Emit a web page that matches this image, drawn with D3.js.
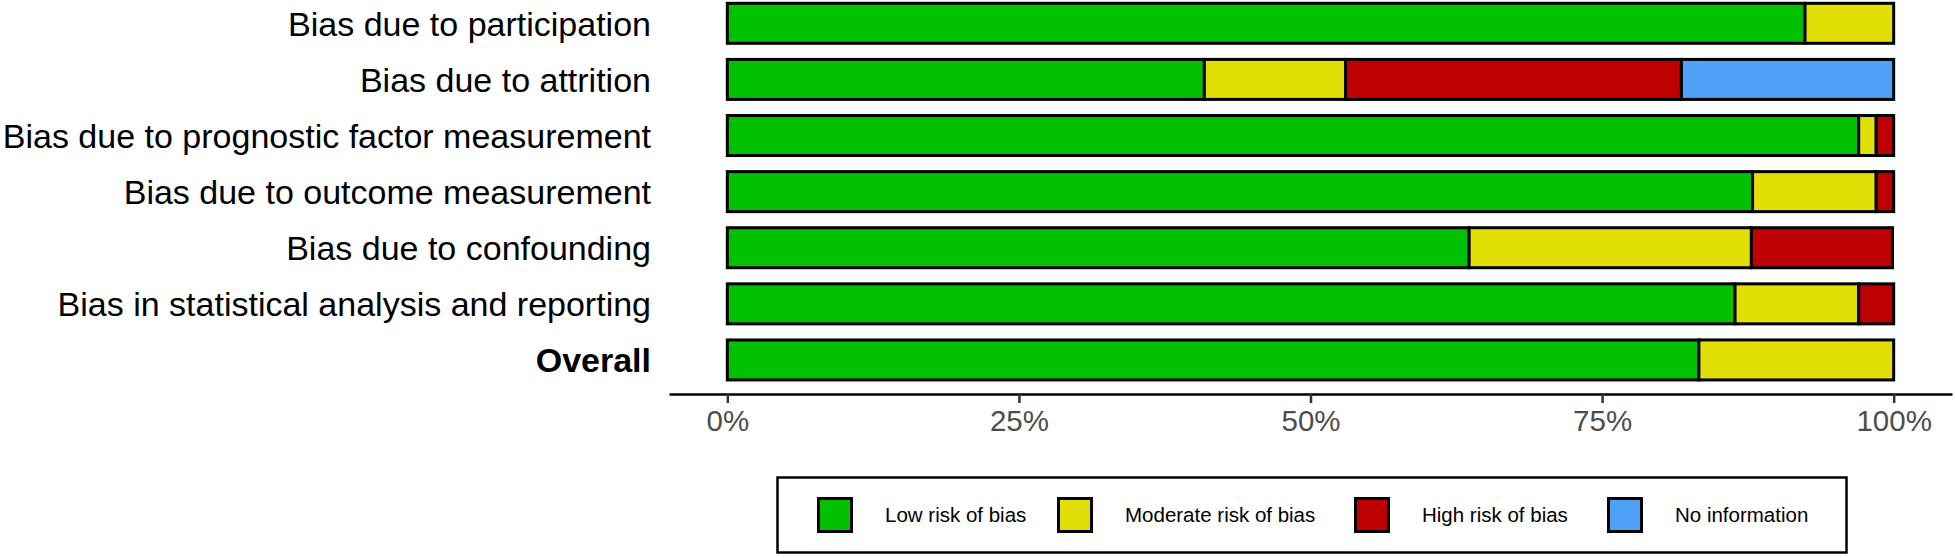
<!DOCTYPE html>
<html>
<head>
<meta charset="utf-8">
<script src="https://cdn.jsdelivr.net/npm/d3@7"></script>
<style>
  html, body { margin: 0; padding: 0; background: #ffffff; }
  svg { display: block; }
  text { font-family: "Liberation Sans", Arial, Helvetica, sans-serif; }
</style>
</head>
<body>
<svg id="chart" width="1955" height="558"></svg>
<script>
// ---- data ----
const domains = [
  "Bias due to participation",
  "Bias due to attrition",
  "Bias due to prognostic factor measurement",
  "Bias due to outcome measurement",
  "Bias due to confounding",
  "Bias in statistical analysis and reporting",
  "Overall"
];
const judgements = ["Low risk of bias", "Moderate risk of bias", "High risk of bias", "No information"];
const lowRisk      = [92.4, 40.9, 97.0, 87.9, 63.6, 86.4, 83.3];
const moderateRisk = [7.6, 12.1, 1.5, 10.6, 24.2, 10.6, 16.7];
const highRisk     = [0.0, 28.8, 1.5, 1.5, 12.1, 3.0, 0.0];
const noInfo       = [0.0, 18.2, 0.0, 0.0, 0.0, 0.0, 0.0];
const tickValues   = [0, 25, 50, 75, 100];
const tickLabels   = ["0%", "25%", "50%", "75%", "100%"];
const colours      = ["#02C100", "#E2DF07", "#BF0000", "#4EA1F7"];

// ---- build table ----
const seriesValues = [lowRisk, moderateRisk, highRisk, noInfo];
const table = domains.map((d, i) => {
  const row = { domain: d };
  judgements.forEach((j, k) => { row[j] = seriesValues[k][i]; });
  return row;
});
const stacked = d3.stack().keys(judgements)(table);

const svg = d3.select("#chart");

const x = d3.scaleLinear().domain([-5, 105]).range([669, 1952]);
const y = d3.scaleBand().domain(domains).range([-4.75, 388]).paddingInner(0.287).paddingOuter(0.1435);
const colour = d3.scaleOrdinal().domain(judgements).range(colours);

// bars
const layers = svg.append("g").selectAll("g")
  .data(stacked).join("g")
  .attr("fill", d => colour(d.key));

layers.selectAll("rect")
  .data(d => d.filter(s => s[1] - s[0] > 0))
  .join("rect")
  .attr("x", d => x(d[0]))
  .attr("width", d => x(d[1]) - x(d[0]))
  .attr("y", d => y(d.data.domain))
  .attr("height", y.bandwidth())
  .attr("stroke", "#000")
  .attr("stroke-width", 3);

// y labels
svg.append("g").selectAll("text")
  .data(domains).join("text")
  .attr("x", 651)
  .attr("y", d => y(d) + y.bandwidth() / 2)
  .attr("dy", "0.36em")
  .attr("text-anchor", "end")
  .attr("font-size", 34)
  .attr("font-weight", d => d === "Overall" ? "bold" : "normal")
  .attr("fill", "#000")
  .text(d => d);

// x axis
const axisY = 394;
const xAxis = d3.axisBottom(x)
  .tickValues(tickValues)
  .tickFormat((d, i) => tickLabels[i])
  .tickSize(9)
  .tickSizeOuter(0)
  .tickPadding(7);
const ax = svg.append("g").attr("transform", `translate(0,${axisY})`).call(xAxis);
ax.select(".domain").attr("stroke", "#000").attr("stroke-width", 2.5);
ax.selectAll(".tick line").attr("stroke", "#333").attr("stroke-width", 2.5);
ax.selectAll(".tick text")
  .attr("font-size", 29.5)
  .attr("fill", "#4D4D4D")
  .attr("font-family", "'Liberation Sans', Arial, Helvetica, sans-serif");

// legend
const legend = svg.append("g");
legend.append("rect")
  .attr("x", 777.5).attr("y", 477.5)
  .attr("width", 1069).attr("height", 75)
  .attr("fill", "#fff").attr("stroke", "#000").attr("stroke-width", 2.5);

const legendKeyX = [817, 1057, 1354, 1607];
const items = legend.selectAll("g.item")
  .data(judgements).join("g")
  .attr("class", "item")
  .attr("transform", (d, i) => `translate(${legendKeyX[i]},497)`);
items.append("rect")
  .attr("x", 1.5).attr("y", 1.5)
  .attr("width", 33).attr("height", 33)
  .attr("fill", d => colour(d))
  .attr("stroke", "#000").attr("stroke-width", 3);
items.append("text")
  .attr("x", 68)
  .attr("y", 18)
  .attr("dy", "0.36em")
  .attr("font-size", 20.5)
  .attr("fill", "#000")
  .text(d => d);
</script>
</body>
</html>
